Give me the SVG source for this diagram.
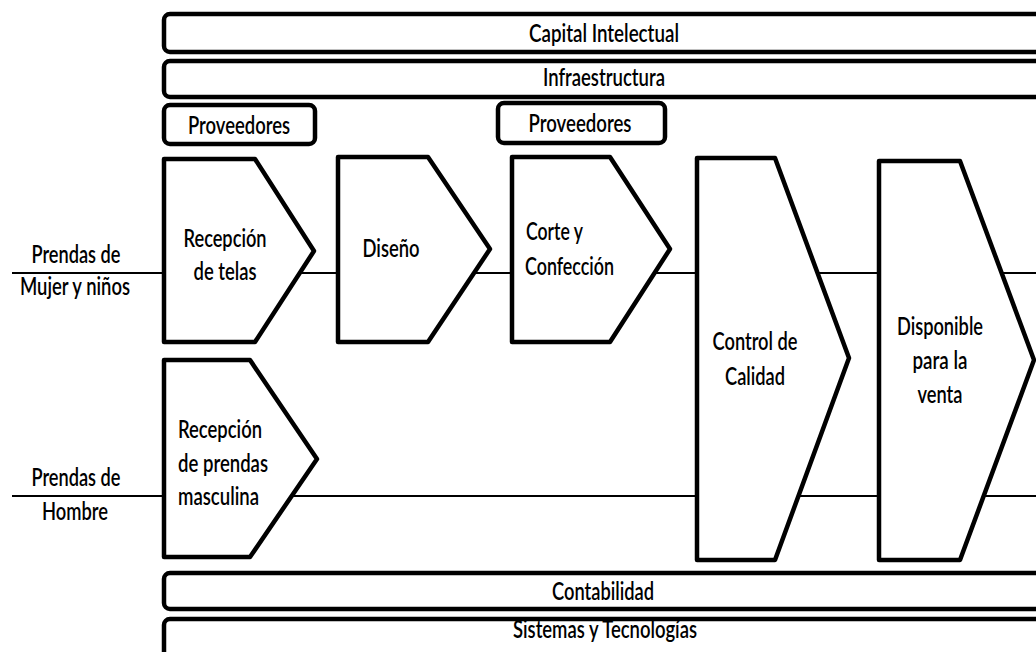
<svg xmlns="http://www.w3.org/2000/svg" width="1036" height="652" viewBox="0 0 1036 652">
  <style>
    .bar { fill: #fff; stroke: #000; stroke-width: 4.5; }
    .step { fill: #fff; stroke: #000; stroke-width: 4.5; stroke-linejoin: round; }
    .link { stroke: #000; stroke-width: 2; fill: none; }
    text { font-family: Lato, "Liberation Sans", sans-serif; font-size: 24px; font-weight: 600; fill: #000; }
    .c { text-anchor: middle; }
  </style>
  <rect width="1036" height="652" fill="#fff"/>

  <!-- flow lines between the process steps -->
  <g id="connectors">
    <line class="link" x1="12" y1="273" x2="166" y2="273"/>
    <line class="link" x1="255" y1="273" x2="338" y2="273"/>
    <line class="link" x1="428" y1="273" x2="512" y2="273"/>
    <line class="link" x1="610" y1="273" x2="697" y2="273"/>
    <line class="link" x1="775" y1="273" x2="879" y2="273"/>
    <line class="link" x1="960" y1="273" x2="1036" y2="273"/>
    <line class="link" x1="12" y1="496" x2="166" y2="496"/>
    <line class="link" x1="250" y1="496" x2="697" y2="496"/>
    <line class="link" x1="775" y1="496" x2="879" y2="496"/>
    <line class="link" x1="960" y1="496" x2="1036" y2="496"/>
  </g>

  <!-- support activity bars -->
  <g id="capital">
    <rect class="bar" x="164" y="14" width="884" height="38" rx="6"/>
    <text class="c" x="604" y="42" textLength="150" lengthAdjust="spacingAndGlyphs">Capital Intelectual</text>
  </g>
  <g id="infraestructura">
    <rect class="bar" x="164" y="61" width="884" height="36" rx="6"/>
    <text class="c" x="604" y="86" textLength="122" lengthAdjust="spacingAndGlyphs">Infraestructura</text>
  </g>
  <g id="proveedores1">
    <rect class="bar" x="164" y="105" width="151" height="39" rx="6"/>
    <text class="c" x="239" y="134" textLength="102" lengthAdjust="spacingAndGlyphs">Proveedores</text>
  </g>
  <g id="proveedores2">
    <rect class="bar" x="498" y="103" width="167" height="40" rx="6"/>
    <text class="c" x="580" y="132" textLength="103" lengthAdjust="spacingAndGlyphs">Proveedores</text>
  </g>

  <!-- inputs -->
  <g id="entrada-mujer">
    <text class="c" x="76" y="263" textLength="89" lengthAdjust="spacingAndGlyphs">Prendas de</text>
    <text class="c" x="75" y="295" textLength="110" lengthAdjust="spacingAndGlyphs">Mujer y niños</text>
  </g>
  <g id="entrada-hombre">
    <text class="c" x="76" y="486" textLength="89" lengthAdjust="spacingAndGlyphs">Prendas de</text>
    <text class="c" x="75" y="520" textLength="66" lengthAdjust="spacingAndGlyphs">Hombre</text>
  </g>

  <!-- process steps -->
  <g id="recepcion-telas">
    <polygon class="step" points="164,159 255,159 314,251 255,342 164,342"/>
    <text class="c" x="225" y="247" textLength="83" lengthAdjust="spacingAndGlyphs">Recepción</text>
    <text class="c" x="225" y="280" textLength="63" lengthAdjust="spacingAndGlyphs">de telas</text>
  </g>
  <g id="diseno">
    <polygon class="step" points="338,157 428,157 490,249 428,342 338,342"/>
    <text class="c" x="391" y="257" textLength="57" lengthAdjust="spacingAndGlyphs">Diseño</text>
  </g>
  <g id="corte-confeccion">
    <polygon class="step" points="512,157 610,157 670,249 610,342 512,342"/>
    <text x="526" y="240" textLength="57" lengthAdjust="spacingAndGlyphs">Corte y</text>
    <text x="525" y="275" textLength="89" lengthAdjust="spacingAndGlyphs">Confección</text>
  </g>
  <g id="control-calidad">
    <polygon class="step" points="697,158 775,158 849,358 775,560 697,560"/>
    <text class="c" x="755" y="350" textLength="85" lengthAdjust="spacingAndGlyphs">Control de</text>
    <text class="c" x="755" y="385" textLength="60" lengthAdjust="spacingAndGlyphs">Calidad</text>
  </g>
  <g id="disponible-venta">
    <polygon class="step" points="879,161 960,161 1034,360 960,560 879,560"/>
    <text class="c" x="940" y="335" textLength="86" lengthAdjust="spacingAndGlyphs">Disponible</text>
    <text class="c" x="940" y="369" textLength="55" lengthAdjust="spacingAndGlyphs">para la</text>
    <text class="c" x="940" y="403" textLength="45" lengthAdjust="spacingAndGlyphs">venta</text>
  </g>
  <g id="recepcion-prendas">
    <polygon class="step" points="164,360 250,360 317,459 250,557 164,557"/>
    <text x="178" y="438" textLength="84" lengthAdjust="spacingAndGlyphs">Recepción</text>
    <text x="178" y="472" textLength="90" lengthAdjust="spacingAndGlyphs">de prendas</text>
    <text x="178" y="505" textLength="81" lengthAdjust="spacingAndGlyphs">masculina</text>
  </g>

  <!-- lower support bars -->
  <g id="contabilidad">
    <rect class="bar" x="164" y="573" width="884" height="36" rx="6"/>
    <text class="c" x="603" y="600" textLength="102" lengthAdjust="spacingAndGlyphs">Contabilidad</text>
  </g>
  <g id="sistemas">
    <rect class="bar" x="164" y="619" width="884" height="40" rx="6"/>
    <text class="c" x="605" y="638" textLength="184" lengthAdjust="spacingAndGlyphs">Sistemas y Tecnologías</text>
  </g>
</svg>
